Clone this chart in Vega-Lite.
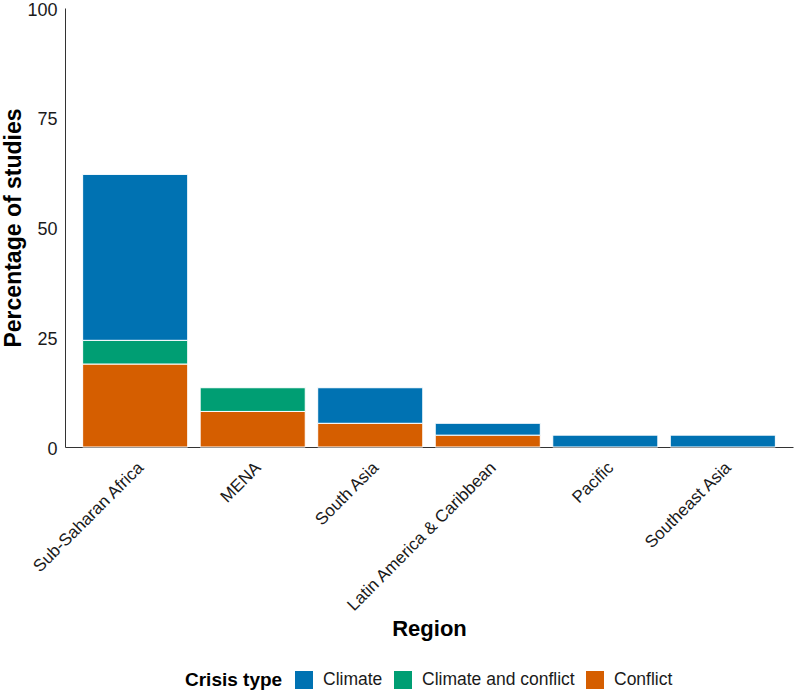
{
  "$schema": "https://vega.github.io/schema/vega-lite/v6.json",
  "autosize": "none",
  "width": 728,
  "height": 439,
  "padding": {"left": 65, "top": 8, "right": 1, "bottom": 245},
  "background": "white",
  "config": {
    "view": {"stroke": null},
    "font": "Liberation Sans"
  },
  "data": {
    "values": [
      {"region": "Sub-Saharan Africa", "crisis": "Conflict", "pct": 18.9},
      {"region": "Sub-Saharan Africa", "crisis": "Climate and conflict", "pct": 5.4},
      {"region": "Sub-Saharan Africa", "crisis": "Climate", "pct": 37.8},
      {"region": "MENA", "crisis": "Conflict", "pct": 8.1},
      {"region": "MENA", "crisis": "Climate and conflict", "pct": 5.4},
      {"region": "South Asia", "crisis": "Conflict", "pct": 5.4},
      {"region": "South Asia", "crisis": "Climate", "pct": 8.1},
      {"region": "Latin America & Caribbean", "crisis": "Conflict", "pct": 2.7},
      {"region": "Latin America & Caribbean", "crisis": "Climate", "pct": 2.7},
      {"region": "Pacific", "crisis": "Climate", "pct": 2.7},
      {"region": "Southeast Asia", "crisis": "Climate", "pct": 2.7}
    ]
  },
  "mark": {"type": "bar", "stroke": "white", "strokeWidth": 1},
  "encoding": {
    "x": {
      "field": "region",
      "type": "nominal",
      "sort": ["Sub-Saharan Africa", "MENA", "South Asia", "Latin America & Caribbean", "Pacific", "Southeast Asia"],
      "title": "Region",
      "scale": {"paddingInner": 0.106, "paddingOuter": 0.15},
      "axis": {
        "labelAngle": -45,
        "labelAlign": "right",
        "labelBaseline": "top",
        "labelFontSize": 17,
        "labelLimit": 400,
        "labelColor": "#1a1a1a",
        "labelPadding": 12,
        "ticks": false,
        "domainColor": "#333333",
        "titleFontSize": 22,
        "titleFontWeight": "bold",
        "titleColor": "black",
        "titlePadding": 5
      }
    },
    "y": {
      "field": "pct",
      "type": "quantitative",
      "stack": "zero",
      "title": "Percentage of studies",
      "scale": {"domain": [0, 100], "nice": false},
      "axis": {
        "values": [0, 25, 50, 75, 100],
        "grid": false,
        "ticks": false,
        "labelFontSize": 18,
        "labelOffset": 2,
        "labelColor": "#1a1a1a",
        "labelPadding": 8,
        "domainColor": "#333333",
        "titleFontSize": 23,
        "titleFontWeight": "bold",
        "titleColor": "black",
        "titlePadding": 1
      }
    },
    "color": {
      "field": "crisis",
      "type": "nominal",
      "title": "Crisis type",
      "scale": {
        "domain": ["Climate", "Climate and conflict", "Conflict"],
        "range": ["#0072B2", "#009E73", "#D55E00"]
      },
      "legend": {
        "orient": "none",
        "direction": "horizontal",
        "legendX": 120,
        "legendY": 663,
        "titleOrient": "left",
        "titleFontSize": 19,
        "titleFontWeight": "bold",
        "titleColor": "black",
        "titlePadding": 12,
        "labelFontSize": 17.5,
        "labelColor": "#1a1a1a",
        "symbolType": "square",
        "symbolSize": 324,
        "symbolStrokeWidth": 0,
        "symbolOpacity": 1,
        "columnPadding": 11,
        "labelOffset": 10
      }
    },
    "order": {"field": "crisis", "sort": "descending"}
  }
}
